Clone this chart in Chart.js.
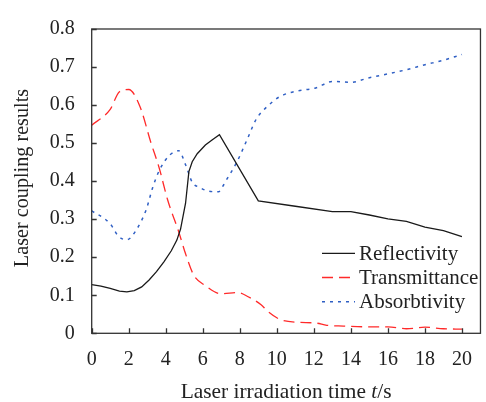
<!DOCTYPE html>
<html>
<head>
<meta charset="utf-8">
<script src="https://cdn.jsdelivr.net/npm/chart.js@4/dist/chart.umd.min.js"></script>
<style>
html,body{margin:0;padding:0;background:#fff;}
#wrap{width:486px;height:402px;position:relative;}
</style>
</head>
<body>
<div id="wrap"><canvas id="c" width="486" height="402"></canvas></div>
<script>
// ---- data ----
const seriesLabels = ['Reflectivity', 'Transmittance', 'Absorbtivity'];
const xTickValues = [0, 2, 4, 6, 8, 10, 12, 14, 16, 18, 20];
const yTickValues = [0, 0.1, 0.2, 0.3, 0.4, 0.5, 0.6, 0.7, 0.8];

const reflX = [0, 0.5, 1, 1.5, 1.9, 2.3, 2.7, 3.1, 3.5, 3.9, 4.3, 4.6, 4.8, 5.07, 5.25, 5.43, 5.7, 6.14, 6.5, 6.9, 9, 11, 13, 14, 15, 16, 17, 18, 19, 20];
const reflY = [0.128, 0.124, 0.118, 0.111, 0.109, 0.112, 0.122, 0.140, 0.162, 0.188, 0.217, 0.245, 0.274, 0.342, 0.425, 0.451, 0.472, 0.495, 0.508, 0.522, 0.348, 0.334, 0.320, 0.320, 0.311, 0.301, 0.294, 0.279, 0.270, 0.254];

const transX = [0, 1, 1.5, 2, 2.6, 3.2, 3.65, 4.1, 4.7, 5.07, 5.5, 6.15, 7, 7.9, 8.45, 9.15, 9.5, 10.15, 11.1, 12.1, 12.7, 13.6, 14.9, 16, 17, 18, 19, 20];
const transY = [0.547, 0.589, 0.635, 0.641, 0.597, 0.501, 0.434, 0.351, 0.267, 0.209, 0.154, 0.125, 0.104, 0.107, 0.096, 0.075, 0.058, 0.037, 0.029, 0.027, 0.021, 0.019, 0.017, 0.017, 0.012, 0.016, 0.012, 0.011];

const absX = [0, 1, 1.45, 1.9, 2.4, 2.95, 3.3, 3.65, 4.2, 4.7, 5.07, 5.43, 5.8, 6.3, 6.85, 7.05, 7.3, 7.85, 8.4, 8.9, 9.5, 10.15, 11.1, 12.1, 13, 14, 15, 16, 17, 18, 19, 20];
const absY = [0.322, 0.288, 0.255, 0.246, 0.271, 0.326, 0.384, 0.428, 0.468, 0.480, 0.443, 0.397, 0.384, 0.374, 0.372, 0.384, 0.405, 0.451, 0.510, 0.564, 0.597, 0.622, 0.637, 0.645, 0.662, 0.660, 0.672, 0.682, 0.693, 0.706, 0.718, 0.733];

const toPoints = (xs, ys) => xs.map((x, i) => ({x: x, y: ys[i]}));

const FONT = '"Liberation Serif", "Times New Roman", serif';
const TEXT = '#222';
const FRAME = '#333';

const styles = [
  {color: '#1a1a1a', dash: [], width: 1.3, tension: 0},
  {color: '#ff2a2a', dash: [11, 6], width: 1.3, tension: 0.2},
  {color: '#2f5fc4', dash: [3, 5], width: 1.5, tension: 0.2}
];

const decor = {
  id: 'decor',
  afterDatasetsDraw(chart) {
    const ctx = chart.ctx;
    const a = chart.chartArea;
    const xs = chart.scales.x, ys = chart.scales.y;
    ctx.save();
    // frame
    ctx.strokeStyle = FRAME;
    ctx.lineWidth = 1.3;
    ctx.setLineDash([]);
    ctx.strokeRect(a.left, a.top, a.right - a.left, a.bottom - a.top);
    // inward ticks
    ctx.beginPath();
    xTickValues.forEach(v => {
      const px = Math.round(xs.getPixelForValue(v)) + 0.5;
      ctx.moveTo(px, a.bottom);
      ctx.lineTo(px, a.bottom - 5);
    });
    yTickValues.forEach(v => {
      const py = Math.round(ys.getPixelForValue(v)) + 0.5;
      ctx.moveTo(a.left, py);
      ctx.lineTo(a.left + 5, py);
    });
    ctx.stroke();

    // legend
    const lx0 = 322, lx1 = 355, tx = 359;
    const rows = [253.3, 277.5, 301.7];
    ctx.font = '21px ' + FONT;
    ctx.textBaseline = 'middle';
    ctx.textAlign = 'left';
    chart.data.datasets.forEach((ds, i) => {
      ctx.beginPath();
      ctx.strokeStyle = ds.borderColor;
      ctx.lineWidth = ds.borderWidth;
      ctx.setLineDash(ds.borderDash || []);
      ctx.moveTo(lx0, rows[i]);
      ctx.lineTo(lx1, rows[i]);
      ctx.stroke();
      ctx.setLineDash([]);
      ctx.fillStyle = TEXT;
      ctx.fillText(ds.label, tx, rows[i] + 1);
    });

    // axis titles
    ctx.fillStyle = TEXT;
    ctx.textBaseline = 'alphabetic';
    ctx.textAlign = 'left';
    const p1 = 'Laser irradiation time ', p2 = 't', p3 = '/s';
    const xf = '21.4px ' + FONT;
    ctx.font = xf;
    const w1 = ctx.measureText(p1).width;
    const w3 = ctx.measureText(p3).width;
    ctx.font = 'italic ' + xf;
    const w2 = ctx.measureText(p2).width;
    const total = w1 + w2 + w3;
    const sx = (a.left + a.right) / 2 - total / 2;
    const by = 398.3;
    ctx.font = xf;
    ctx.fillText(p1, sx, by);
    ctx.font = 'italic ' + xf;
    ctx.fillText(p2, sx + w1, by);
    ctx.font = xf;
    ctx.fillText(p3, sx + w1 + w2, by);

    ctx.translate(23, 178);
    ctx.rotate(-Math.PI / 2);
    ctx.font = '20.2px ' + FONT;
    ctx.textAlign = 'center';
    ctx.textBaseline = 'middle';
    ctx.fillText('Laser coupling results', 0, 0);
    ctx.restore();
  }
};

new Chart(document.getElementById('c'), {
  type: 'line',
  data: {
    datasets: [
      {label: seriesLabels[0], data: toPoints(reflX, reflY)},
      {label: seriesLabels[1], data: toPoints(transX, transY)},
      {label: seriesLabels[2], data: toPoints(absX, absY)}
    ].map((d, i) => Object.assign(d, {
      borderColor: styles[i].color,
      borderDash: styles[i].dash,
      borderWidth: styles[i].width,
      pointRadius: 0,
      fill: false,
      tension: styles[i].tension,
      cubicInterpolationMode: styles[i].tension ? 'monotone' : 'default'
    }))
  },
  options: {
    responsive: false,
    animation: false,
    devicePixelRatio: 1,
    layout: {padding: {top: 14, right: 1, left: 0, bottom: 0}},
    plugins: {legend: {display: false}, tooltip: {enabled: false}},
    scales: {
      x: {
        type: 'linear',
        min: 0, max: 21,
        grid: {display: false, drawTicks: false},
        border: {display: false},
        afterBuildTicks: s => { s.ticks = xTickValues.map(v => ({value: v})); },
        afterFit: s => { s.height = 402 - 333.3; },
        ticks: {
          padding: 14,
          color: TEXT,
          font: {family: FONT, size: 20},
          maxRotation: 0,
          autoSkip: false,
          callback: v => String(v)
        }
      },
      y: {
        type: 'linear',
        min: 0, max: 0.8,
        grid: {display: false, drawTicks: false},
        border: {display: false},
        afterBuildTicks: s => { s.ticks = yTickValues.map(v => ({value: v})); },
        afterFit: s => { s.width = 91.7; },
        ticks: {
          padding: 17,
          color: TEXT,
          font: {family: FONT, size: 20},
          autoSkip: false,
          callback: v => (v === 0 ? '0' : Number(v).toFixed(1))
        }
      }
    }
  },
  plugins: [decor]
});
</script>
</body>
</html>
